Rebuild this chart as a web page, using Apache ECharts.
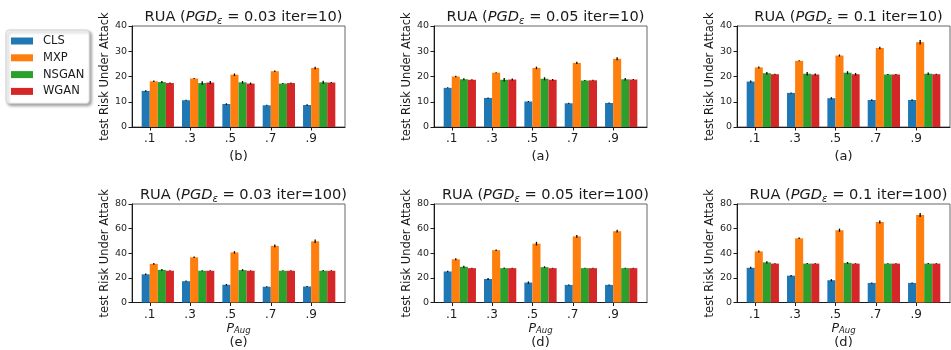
<!DOCTYPE html>
<html>
<head>
<meta charset="utf-8">
<script src="https://cdn.jsdelivr.net/npm/echarts@6/dist/echarts.min.js"></script>
<style>
  html, body { margin: 0; padding: 0; background: #fff; }
  #chart { width: 951px; height: 350px; }
</style>
</head>
<body>
<div id="chart"></div>
<script>
// Test risk under attack for each augmentation probability P_Aug.
const methods = ['CLS', 'MXP', 'NSGAN', 'WGAN'];
const colors = ['#1f77b4', '#ff7f0e', '#2ca02c', '#d62728'];
const pAugLabels = ['.1', '.3', '.5', '.7', '.9'];

// Panel order: eps 0.03/0.05/0.1 at iter=10, then eps 0.03/0.05/0.1 at iter=100
const epsValues = ['0.03', '0.05', '0.1', '0.03', '0.05', '0.1'];
const iterValues = ['10', '10', '10', '100', '100', '100'];
const panelTags = ['(b)', '(a)', '(a)', '(e)', '(d)', '(d)'];

// Mean risk per method, one row per panel
const riskCLS = [
  [14.3, 10.6, 9.1, 8.6, 8.7],
  [15.5, 11.5, 10.1, 9.4, 9.5],
  [18.0, 13.5, 11.4, 10.7, 10.7],
  [22.9, 17.3, 14.4, 12.8, 13.0],
  [25.2, 19.1, 16.2, 14.3, 14.3],
  [28.2, 21.8, 18.1, 15.9, 15.9]
];
const riskMXP = [
  [18.1, 19.2, 20.7, 22.1, 23.4],
  [20.0, 21.5, 23.4, 25.4, 27.0],
  [23.6, 26.2, 28.3, 31.3, 33.6],
  [31.4, 36.7, 40.7, 46.0, 49.7],
  [35.1, 42.5, 47.8, 53.7, 57.9],
  [41.5, 52.1, 58.7, 65.4, 71.0]
];
const riskNSGAN = [
  [17.8, 17.4, 17.7, 17.2, 17.7],
  [18.9, 18.7, 19.1, 18.4, 18.9],
  [21.3, 21.1, 21.5, 20.8, 21.1],
  [26.5, 25.8, 26.3, 25.8, 25.8],
  [29.0, 27.9, 28.7, 27.9, 27.9],
  [32.6, 31.6, 32.2, 31.6, 31.6]
];
const riskWGAN = [
  [17.4, 17.6, 17.2, 17.4, 17.6],
  [18.7, 18.8, 18.7, 18.5, 18.8],
  [20.9, 20.8, 20.9, 20.8, 20.9],
  [25.8, 25.8, 25.8, 25.8, 25.8],
  [27.9, 27.9, 27.9, 27.9, 27.9],
  [31.6, 31.6, 31.6, 31.6, 31.6]
];

// Standard deviations (error bars)
const errCLS = [
  [0.3, 0.2, 0.3, 0.2, 0.3],
  [0.2, 0.2, 0.2, 0.2, 0.2],
  [0.4, 0.2, 0.4, 0.3, 0.3],
  [0.6, 0.5, 0.7, 0.4, 0.5],
  [0.6, 0.8, 0.9, 0.4, 0.4],
  [0.8, 0.6, 0.9, 0.4, 0.4]
];
const errMXP = [
  [0.3, 0.2, 0.5, 0.3, 0.5],
  [0.3, 0.2, 0.5, 0.4, 0.6],
  [0.4, 0.2, 0.4, 0.5, 0.9],
  [0.7, 0.6, 1.0, 1.2, 1.4],
  [0.8, 0.6, 1.5, 1.2, 1.1],
  [0.8, 0.6, 1.3, 1.2, 1.6]
];
const errNSGAN = [
  [0.4, 0.7, 0.5, 0.2, 0.6],
  [0.4, 0.7, 0.6, 0.2, 0.5],
  [0.5, 0.7, 0.6, 0.2, 0.5],
  [0.7, 0.4, 0.8, 0.3, 0.5],
  [0.8, 0.5, 0.7, 0.3, 0.4],
  [1.0, 0.4, 0.7, 0.3, 0.4]
];
const errWGAN = [
  [0.2, 0.6, 0.4, 0.2, 0.2],
  [0.2, 0.4, 0.3, 0.2, 0.2],
  [0.2, 0.4, 0.5, 0.2, 0.2],
  [0.3, 0.3, 0.3, 0.3, 0.3],
  [0.3, 0.3, 0.3, 0.3, 0.3],
  [0.3, 0.3, 0.3, 0.3, 0.3]
];

const yMaxByRow = [40, 80];
const yStepByRow = [10, 20];

const risks = [riskCLS, riskMXP, riskNSGAN, riskWGAN];
const errs = [errCLS, errMXP, errNSGAN, errWGAN];

const FONT = 'DejaVu Sans';
const INK = '#1a1a1a';

// Layout: 3 columns x 2 rows of axes
const colLeft = [132, 434, 737];
const colWidth = 213;
const rowTop = [26, 204];
const rowHeight = [101, 100];

// x domain: tick k sits between the CLS and MXP bars of group k
const barUnit = 0.2;
const barOffsets = [-0.1, 0.1, 0.3, 0.5];
const xMin = -0.44, xMax = 4.84;
const barPx = barUnit * colWidth / (xMax - xMin);

const grids = [], xAxes = [], yAxes = [], series = [], titles = [];

for (let p = 0; p < 6; p++) {
  const row = Math.floor(p / 3), col = p % 3;
  grids.push({
    left: colLeft[col], top: rowTop[row], width: colWidth, height: rowHeight[row],
    show: true, borderColor: '#666', borderWidth: 1, backgroundColor: 'transparent'
  });
  const tickIdx = pAugLabels.map((_, i) => i);
  const xName = row === 0
    ? '{tag|' + panelTags[p] + '}'
    : '{p|P}{a|Aug}\n{tag|' + panelTags[p] + '}';
  xAxes.push({
    type: 'value', gridIndex: p, min: xMin, max: xMax,
    splitLine: { show: false },
    axisLine: { show: true, onZero: false, lineStyle: { color: INK, width: 1 } },
    axisTick: { show: true, length: 3.5, customValues: tickIdx, lineStyle: { color: INK } },
    axisLabel: {
      customValues: tickIdx, margin: 6, fontSize: 12, color: INK, fontFamily: FONT,
      formatter: v => pAugLabels[Math.round(v)] ?? ''
    },
    name: xName, nameLocation: 'middle', nameGap: row === 0 ? 23 : 20,
    nameTextStyle: {
      color: INK, fontFamily: FONT,
      rich: {
        tag: { fontSize: 13, lineHeight: 14, fontFamily: FONT, color: INK },
        p: { fontSize: 12.5, fontStyle: 'italic', lineHeight: 13, fontFamily: FONT, color: INK },
        a: { fontSize: 8.5, fontStyle: 'italic', lineHeight: 7, verticalAlign: 'bottom', fontFamily: FONT, color: INK }
      }
    }
  });
  yAxes.push({
    type: 'value', gridIndex: p, min: 0, max: yMaxByRow[row], interval: yStepByRow[row],
    splitLine: { show: false },
    axisLine: { show: true, onZero: false, lineStyle: { color: INK, width: 1 } },
    axisTick: { show: true, length: 3.5, lineStyle: { color: INK } },
    axisLabel: { fontSize: 9.5, color: '#262626', margin: 5, fontFamily: FONT },
    name: 'test Risk Under Attack', nameLocation: 'middle', nameRotate: 90, nameGap: 16,
    nameTextStyle: { fontSize: 11.5, color: INK, fontFamily: FONT }
  });
  titles.push({
    text: '{n|RUA (}{i|PGD}{s|ε}{n| = ' + epsValues[p] + ' iter=' + iterValues[p] + ')}',
    left: colLeft[col] + colWidth / 2, textAlign: 'center',
    top: rowTop[row] - 23,
    textStyle: {
      fontWeight: 'normal',
      rich: {
        n: { fontSize: 14.6, lineHeight: 18, fontWeight: 'normal', color: INK, fontFamily: FONT },
        i: { fontSize: 14.6, lineHeight: 18, fontWeight: 'normal', fontStyle: 'italic', color: INK, fontFamily: FONT },
        s: { fontSize: 10, lineHeight: 10, fontWeight: 'normal', fontStyle: 'italic', verticalAlign: 'bottom', color: INK, fontFamily: FONT }
      }
    }
  });

  const errPoints = [];
  for (let m = 0; m < 4; m++) {
    const vals = risks[m][p];
    series.push({
      type: 'bar', name: methods[m], xAxisIndex: p, yAxisIndex: p,
      barWidth: barPx, barGap: '-100%',
      itemStyle: { color: colors[m] },
      data: vals.map((v, i) => [i + barOffsets[m], v]),
      animation: false
    });
    vals.forEach((v, i) => errPoints.push([i + barOffsets[m], v, errs[m][p][i]]));
  }
  series.push({
    type: 'custom', name: 'err' + p, xAxisIndex: p, yAxisIndex: p, z: 5,
    encode: { x: 0, y: 1 },
    data: errPoints,
    animation: false,
    renderItem: (params, api) => {
      const x = api.value(0), y = api.value(1), e = api.value(2);
      const a = api.coord([x, y - e]);
      const b = api.coord([x, y + e]);
      return {
        type: 'line',
        shape: { x1: a[0], y1: a[1], x2: b[0], y2: b[1] },
        style: { stroke: '#000', lineWidth: 1.3 }
      };
    }
  });
}

const chart = echarts.init(document.getElementById('chart'), null, { renderer: 'canvas' });
chart.setOption({
  animation: false,
  backgroundColor: '#fff',
  textStyle: { fontFamily: FONT },
  title: titles,
  legend: {
    data: methods, orient: 'vertical', left: 6, top: 30,
    icon: 'rect', itemWidth: 22, itemHeight: 7, itemGap: 2.8,
    padding: [4, 5, 5, 5],
    backgroundColor: '#fff', borderColor: '#cfcfcf', borderWidth: 1, borderRadius: 3,
    shadowColor: 'rgba(0,0,0,0.35)', shadowBlur: 3, shadowOffsetX: 2, shadowOffsetY: 2,
    selectedMode: false,
    textStyle: { fontSize: 11.5, lineHeight: 14, color: INK, fontFamily: FONT, padding: [0, 0, 0, 5] }
  },
  grid: grids,
  xAxis: xAxes,
  yAxis: yAxes,
  series: series
});
</script>
</body>
</html>
